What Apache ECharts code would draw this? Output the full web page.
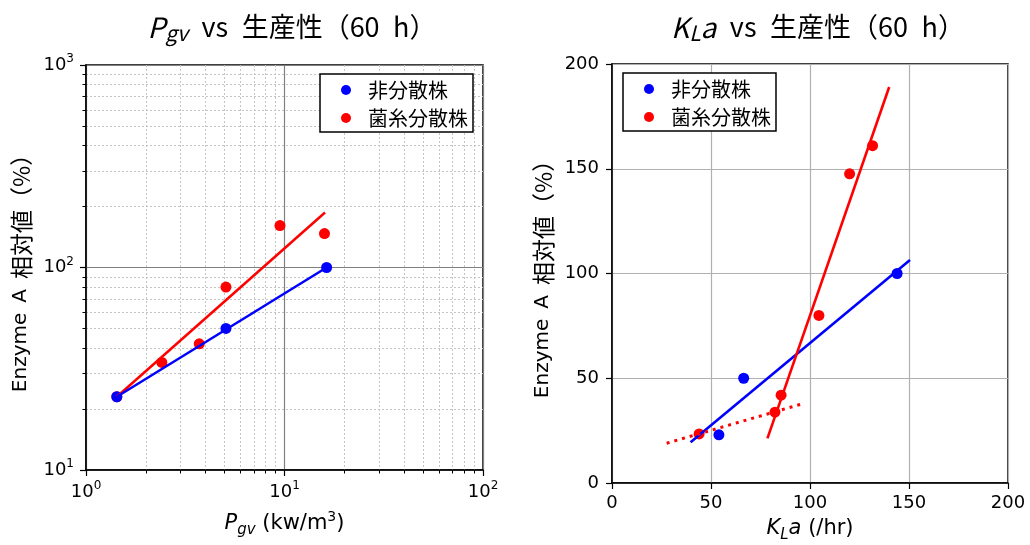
<!DOCTYPE html>
<html>
<head>
<meta charset="utf-8">
<script src="https://cdn.jsdelivr.net/npm/echarts@6/dist/echarts.min.js"></script>
<style>html,body{margin:0;padding:0;background:#fff;}#c{width:1030px;height:545px;}</style>
</head>
<body>
<div id="c"></div>
<script>
// ---- data (left: Pgv, log-log) ----
const pgvBlueX = [1.43, 5.07, 16.3];
const pgvBlueY = [23, 50, 100];
const pgvRedX = [1.43, 2.41, 3.72, 5.07, 9.49, 15.9];
const pgvRedY = [23, 34, 42, 80, 161, 147];
const pgvBlueFitX = [1.43, 16.3];
const pgvBlueFitY = [23, 100];
const pgvRedFitX = [1.43, 16];
const pgvRedFitY = [23, 187];
// ---- data (right: KLa, linear) ----
const klaBlueX = [54, 66.5, 144];
const klaBlueY = [23, 50, 100];
const klaRedX = [44, 82.3, 85.4, 104.5, 120, 131.6];
const klaRedY = [23.4, 33.8, 41.9, 80, 147.6, 161];
const klaBlueFitX = [39.7, 150.5];
const klaBlueFitY = [19.4, 106.5];
const klaRedFitX = [78.5, 140];
const klaRedFitY = [21.3, 189];
const klaRedDotX = [27.6, 95.8];
const klaRedDotY = [19, 37.7];
const klaTicks = [0, 50, 100, 150, 200];
const seriesNames = ['非分散株', '菌糸分散株'];

const zip = (xs, ys) => xs.map((x, i) => [x, ys[i]]);
const BLUE = '#0000ff', RED = '#ff0000';
const LAT = 'DejaVu Sans';
const JP = '"Noto Sans CJK JP"';

const chart = echarts.init(document.getElementById('c'), null, {renderer: 'canvas'});

const titleRich = {
  i: {fontFamily: JP, fontStyle: 'italic', fontWeight: 'normal', fontSize: 28, lineHeight: 34, color: '#000'},
  sub: {fontFamily: JP, fontStyle: 'italic', fontWeight: 'normal', fontSize: 21, lineHeight: 20, verticalAlign: 'bottom', color: '#000'},
  j: {fontFamily: JP, fontWeight: 'normal', fontSize: 27, lineHeight: 34, color: '#000'}
};
const nameRich = {
  i: {fontFamily: LAT, fontStyle: 'italic', fontSize: 21, lineHeight: 28, color: '#000'},
  sub: {fontFamily: LAT, fontStyle: 'italic', fontSize: 15, lineHeight: 15, verticalAlign: 'bottom', color: '#000'},
  t: {fontFamily: LAT, fontSize: 21, lineHeight: 28, color: '#000'},
  sup: {fontFamily: LAT, fontSize: 14, lineHeight: 14, verticalAlign: 'top', color: '#000'}
};
const yNameRich = {
  a: {fontFamily: LAT, fontSize: 20, lineHeight: 26, color: '#000'},
  c: {fontFamily: JP, fontSize: 23, lineHeight: 26, color: '#000'}
};
const logLabel = {
  fontFamily: LAT, fontSize: 18, color: '#000',
  formatter: v => '{b|10}{s|' + Math.round(Math.log10(v)) + '}',
  rich: {
    b: {fontFamily: LAT, fontSize: 18, lineHeight: 24, color: '#000'},
    s: {fontFamily: LAT, fontSize: 12, lineHeight: 12, verticalAlign: 'top', color: '#000'}
  }
};
const legendCommon = {
  orient: 'vertical',
  data: seriesNames,
  icon: 'circle',
  itemWidth: 34, itemHeight: 10, itemGap: 8,
  padding: [6, 5, 4, 21],
  borderColor: '#000', borderWidth: 1.5, borderRadius: 0,
  backgroundColor: '#fff',
  textStyle: {fontFamily: JP, fontSize: 20, color: '#000'},
  selectedMode: false
};
const yName = '{a|Enzyme\u2002A\u2002}{c|相対値（%）}';
const SP = '\u2002';

const option = {
  backgroundColor: '#fff',
  animation: false,
  title: [
    {text: '{i|P}{sub|gv}{j|' + SP + 'vs' + SP + '生産性（60' + SP + 'h）}', left: 287, top: 5, textAlign: 'center', textStyle: {fontWeight: 'normal', rich: titleRich}},
    {text: '{i|K}{sub|L}{i|a}{j|' + SP + 'vs' + SP + '生産性（60' + SP + 'h）}', left: 813, top: 5, textAlign: 'center', textStyle: {fontWeight: 'normal', rich: titleRich}}
  ],
  legend: [
    Object.assign({left: 320, top: 74}, legendCommon),
    Object.assign({left: 623, top: 73}, legendCommon)
  ],
  grid: [
    {left: 86, top: 65, width: 397, height: 405, show: true, borderColor: '#000', borderWidth: 1.5, backgroundColor: 'transparent', containLabel: false, outerBoundsMode: 'none'},
    {left: 612, top: 64, width: 396, height: 419, show: true, borderColor: '#000', borderWidth: 1.5, backgroundColor: 'transparent', containLabel: false, outerBoundsMode: 'none'}
  ],
  xAxis: [
    {
      type: 'log', logBase: 10, min: 1, max: 100, gridIndex: 0,
      name: '{i|P}{sub|gv}{t| (kw/m}{sup|3}{t|)}', nameLocation: 'middle', nameGap: 40,
      nameTextStyle: {rich: nameRich},
      axisLine: {show: true, onZero: false, lineStyle: {color: '#000', width: 1.5}},
      axisTick: {show: true, length: 6, lineStyle: {color: '#000', width: 1.2}},
      minorTick: {show: true, splitNumber: 9, length: 3.5, lineStyle: {color: '#000', width: 1}},
      splitLine: {show: true, lineStyle: {color: '#808080', width: 1.2}},
      minorSplitLine: {show: true, lineStyle: {color: '#c4c4c4', width: 1, type: [2, 2]}},
      axisLabel: Object.assign({margin: 10}, logLabel)
    },
    {
      type: 'value', min: 0, max: 200, interval: 50, gridIndex: 1,
      name: '{i|K}{sub|L}{i|a}{t| (/hr)}', nameLocation: 'middle', nameGap: 32,
      nameTextStyle: {rich: nameRich},
      axisLine: {show: true, onZero: false, lineStyle: {color: '#000', width: 1.5}},
      axisTick: {show: true, length: 6, lineStyle: {color: '#000', width: 1.2}},
      splitLine: {show: true, lineStyle: {color: '#b0b0b0', width: 1.2}},
      axisLabel: {margin: 11, fontFamily: LAT, fontSize: 18, color: '#000',
        formatter: v => klaTicks.indexOf(v) >= 0 ? String(v) : ''}
    }
  ],
  yAxis: [
    {
      type: 'log', logBase: 10, min: 10, max: 1000, gridIndex: 0,
      name: yName, nameLocation: 'middle', nameGap: 52,
      nameTextStyle: {rich: yNameRich},
      axisLine: {show: true, onZero: false, lineStyle: {color: '#000', width: 1.5}},
      axisTick: {show: true, length: 6, lineStyle: {color: '#000', width: 1.2}},
      minorTick: {show: true, splitNumber: 9, length: 3.5, lineStyle: {color: '#000', width: 1}},
      splitLine: {show: true, lineStyle: {color: '#808080', width: 1.2}},
      minorSplitLine: {show: true, lineStyle: {color: '#c4c4c4', width: 1, type: [2, 2]}},
      axisLabel: Object.assign({margin: 12}, logLabel)
    },
    {
      type: 'value', min: 0, max: 200, interval: 50, gridIndex: 1,
      name: yName, nameLocation: 'middle', nameGap: 56,
      nameTextStyle: {rich: yNameRich},
      axisLine: {show: true, onZero: false, lineStyle: {color: '#000', width: 1.5}},
      axisTick: {show: true, length: 6, lineStyle: {color: '#000', width: 1.2}},
      splitLine: {show: true, lineStyle: {color: '#b0b0b0', width: 1.2}},
      axisLabel: {margin: 13, fontFamily: LAT, fontSize: 18, color: '#000'}
    }
  ],
  series: [
    // left
    {name: 'pgvRedFit', type: 'line', xAxisIndex: 0, yAxisIndex: 0, data: zip(pgvRedFitX, pgvRedFitY), showSymbol: false, symbol: 'none', lineStyle: {color: RED, width: 2.5}, silent: true},
    {name: seriesNames[1], type: 'scatter', xAxisIndex: 0, yAxisIndex: 0, data: zip(pgvRedX, pgvRedY), symbolSize: 11, itemStyle: {color: RED, opacity: 1}},
    {name: 'pgvBlueFit', type: 'line', xAxisIndex: 0, yAxisIndex: 0, data: zip(pgvBlueFitX, pgvBlueFitY), showSymbol: false, symbol: 'none', lineStyle: {color: BLUE, width: 2.5}, silent: true},
    {name: seriesNames[0], type: 'scatter', xAxisIndex: 0, yAxisIndex: 0, data: zip(pgvBlueX, pgvBlueY), symbolSize: 11, itemStyle: {color: BLUE, opacity: 1}},
    // right
    {name: 'klaBlueFit', type: 'line', xAxisIndex: 1, yAxisIndex: 1, data: zip(klaBlueFitX, klaBlueFitY), showSymbol: false, symbol: 'none', lineStyle: {color: BLUE, width: 2.6}, silent: true},
    {name: seriesNames[0], type: 'scatter', xAxisIndex: 1, yAxisIndex: 1, data: zip(klaBlueX, klaBlueY), symbolSize: 11, itemStyle: {color: BLUE, opacity: 1}},
    {name: 'klaRedFit', type: 'line', xAxisIndex: 1, yAxisIndex: 1, data: zip(klaRedFitX, klaRedFitY), showSymbol: false, symbol: 'none', lineStyle: {color: RED, width: 2.6}, silent: true},
    {name: 'klaRedDot', type: 'line', xAxisIndex: 1, yAxisIndex: 1, data: zip(klaRedDotX, klaRedDotY), showSymbol: false, symbol: 'none', lineStyle: {color: RED, width: 3, type: [3, 5]}, silent: true},
    {name: seriesNames[1], type: 'scatter', xAxisIndex: 1, yAxisIndex: 1, data: zip(klaRedX, klaRedY), symbolSize: 11, itemStyle: {color: RED, opacity: 1}}
  ]
};
chart.setOption(option);
</script>
</body>
</html>
